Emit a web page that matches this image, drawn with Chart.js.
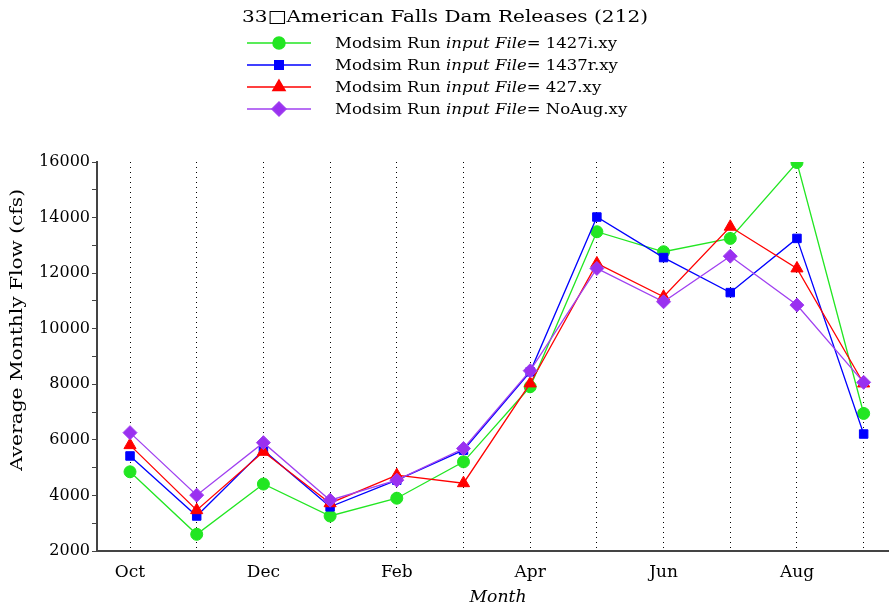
<!DOCTYPE html>
<html>
<head>
<meta charset="utf-8">
<script src="https://cdn.jsdelivr.net/npm/chart.js@4"></script>
<style>
  html, body { margin: 0; padding: 0; background: #fff; }
  #wrap { width: 889px; height: 609px; position: relative; }
</style>
</head>
<body>
<div id="wrap"><canvas id="flow-chart"></canvas></div>
<script>
const months = ['Oct', 'Nov', 'Dec', 'Jan', 'Feb', 'Mar', 'Apr', 'May', 'Jun', 'Jul', 'Aug', 'Sep'];
const run1427i = [4850, 2600, 4410, 3260, 3900, 5210, 7910, 13490, 12770, 13250, 15980, 6950];
const run1437r = [5420, 3260, 5630, 3590, 4550, 5630, 8450, 14020, 12560, 11300, 13250, 6210];
const run427 = [5810, 3470, 5570, 3720, 4730, 4440, 8030, 12350, 11150, 13670, 12170, 8030];
const runNoAug = [6260, 4010, 5900, 3830, 4550, 5690, 8490, 12170, 10970, 12610, 10850, 8070];
const seriesNames = ['1427i.xy', '1437r.xy', '427.xy', 'NoAug.xy'];
const yTicks = [2000, 4000, 6000, 8000, 10000, 12000, 14000, 16000];

const serif = '"DejaVu Serif", "Liberation Serif", serif';

function pts(values) {
    return values.map((v, i) => ({x: i, y: v}));
}

// the original's text is a wide, stretched serif: squeeze/stretch to the width seen
function wideText(ctx, text, x, y, sx) {
    ctx.save();
    ctx.translate(x, y);
    ctx.scale(sx, 1);
    ctx.fillText(text, 0, 0);
    ctx.restore();
    return ctx.measureText(text).width * sx;
}

// title, legend and axis titles drawn around the plot
const headerPlugin = {
    id: 'header',
    afterDraw(chart) {
        const ctx = chart.ctx;
        ctx.save();
        ctx.fillStyle = '#000';
        ctx.textBaseline = 'middle';
        ctx.textAlign = 'left';

        const title = '33\u25A1American Falls Dam Releases (212)';
        ctx.font = '17px ' + serif;
        wideText(ctx, title, 242, 18, 406 / ctx.measureText(title).width);

        // legend
        const rowY = [43, 65, 87, 109];
        ctx.font = '15px ' + serif;
        const w0 = ctx.measureText('Modsim Run ').width;
        ctx.font = 'italic 15px ' + serif;
        const w1 = ctx.measureText('input File').width;
        ctx.font = '15px ' + serif;
        const w2 = ctx.measureText('= ' + seriesNames[0]).width;
        const sx = 282 / (w0 + w1 + w2);

        chart.data.datasets.forEach((ds, i) => {
            const y = rowY[i];
            ctx.strokeStyle = ds.borderColor;
            ctx.lineWidth = 1.5;
            ctx.beginPath();
            ctx.moveTo(247, y);
            ctx.lineTo(311, y);
            ctx.stroke();
            ctx.fillStyle = ds.backgroundColor;
            Chart.helpers.drawPoint(ctx, {pointStyle: ds.pointStyle, radius: ds.pointRadius, borderWidth: 1, rotation: 0}, 279, y);

            ctx.fillStyle = '#000';
            let x = 335;
            const parts = [['Modsim Run ', ''], ['input File', 'italic '], ['= ' + seriesNames[i], '']];
            parts.forEach(p => {
                ctx.font = p[1] + '15px ' + serif;
                x += wideText(ctx, p[0], x, y + 1, sx);
            });
        });

        // y axis title
        const yt = 'Average Monthly Flow (cfs)';
        ctx.font = '16px ' + serif;
        ctx.save();
        ctx.translate(18, 330);
        ctx.rotate(-Math.PI / 2);
        ctx.textAlign = 'center';
        ctx.scale(282 / ctx.measureText(yt).width, 1);
        ctx.fillText(yt, 0, 0);
        ctx.restore();

        // x axis title
        ctx.font = 'italic 16px ' + serif;
        ctx.textAlign = 'center';
        ctx.save();
        ctx.translate(498, 598);
        ctx.scale(57 / ctx.measureText('Month').width, 1);
        ctx.fillText('Month', 0, 0);
        ctx.restore();

        ctx.restore();
    }
};

new Chart(document.getElementById('flow-chart'), {
    type: 'line',
    plugins: [headerPlugin],
    data: {
        datasets: [
            {
                label: 'Modsim Run input File= ' + seriesNames[0],
                data: pts(run1427i),
                borderColor: '#22e622',
                backgroundColor: '#22e622',
                pointStyle: 'circle',
                pointRadius: 6,
                order: 4
            },
            {
                label: 'Modsim Run input File= ' + seriesNames[1],
                data: pts(run1437r),
                borderColor: '#0000ff',
                backgroundColor: '#0000ff',
                pointStyle: 'rect',
                pointRadius: 6,
                order: 3
            },
            {
                label: 'Modsim Run input File= ' + seriesNames[2],
                data: pts(run427),
                borderColor: '#ff0000',
                backgroundColor: '#ff0000',
                pointStyle: 'triangle',
                pointRadius: 7,
                order: 2
            },
            {
                label: 'Modsim Run input File= ' + seriesNames[3],
                data: pts(runNoAug),
                borderColor: '#a040f0',
                backgroundColor: '#9a30f0',
                pointStyle: 'rectRot',
                pointRadius: 7,
                order: 1
            }
        ]
    },
    options: {
        responsive: true,
        maintainAspectRatio: false,
        animation: false,
        layout: {autoPadding: false, padding: {top: 162, right: 0, left: 0, bottom: 0}},
        elements: {
            line: {borderWidth: 1.3, tension: 0},
            point: {borderWidth: 1, hoverRadius: 6}
        },
        plugins: {
            legend: {display: false},
            tooltip: {enabled: false}
        },
        scales: {
            x: {
                type: 'linear',
                min: -0.495,
                max: 11.38,
                afterFit(scale) {
                    scale.height = 58;
                    scale.paddingLeft = 0;
                    scale.paddingRight = 0;
                },
                afterBuildTicks(scale) {
                    scale.ticks = months.map((m, i) => ({value: i}));
                },
                ticks: {
                    autoSkip: false,
                    maxRotation: 0,
                    color: '#000',
                    padding: 11,
                    font: {family: serif, size: 17},
                    callback: (v) => (v % 2 === 0 ? months[v] : '')
                },
                grid: {
                    color: '#000',
                    lineWidth: 1,
                    drawTicks: false
                },
                border: {color: '#444', width: 2, dash: [1, 4]}
            },
            y: {
                min: 2000,
                max: 16000,
                afterFit(scale) {
                    scale.width = 97;
                    scale.paddingTop = 0;
                    scale.paddingBottom = 0;
                },
                afterBuildTicks(scale) {
                    const t = [];
                    for (let v = 2000; v <= 16000; v += 1000) t.push({value: v});
                    scale.ticks = t;
                },
                ticks: {
                    autoSkip: false,
                    color: '#000',
                    padding: 2,
                    font: {family: serif, size: 16},
                    callback: (v) => (yTicks.includes(v) ? String(v) : '')
                },
                grid: {
                    drawOnChartArea: false,
                    color: '#444',
                    tickLength: 5
                },
                border: {color: '#444', width: 2}
            }
        }
    }
});
</script>
</body>
</html>
